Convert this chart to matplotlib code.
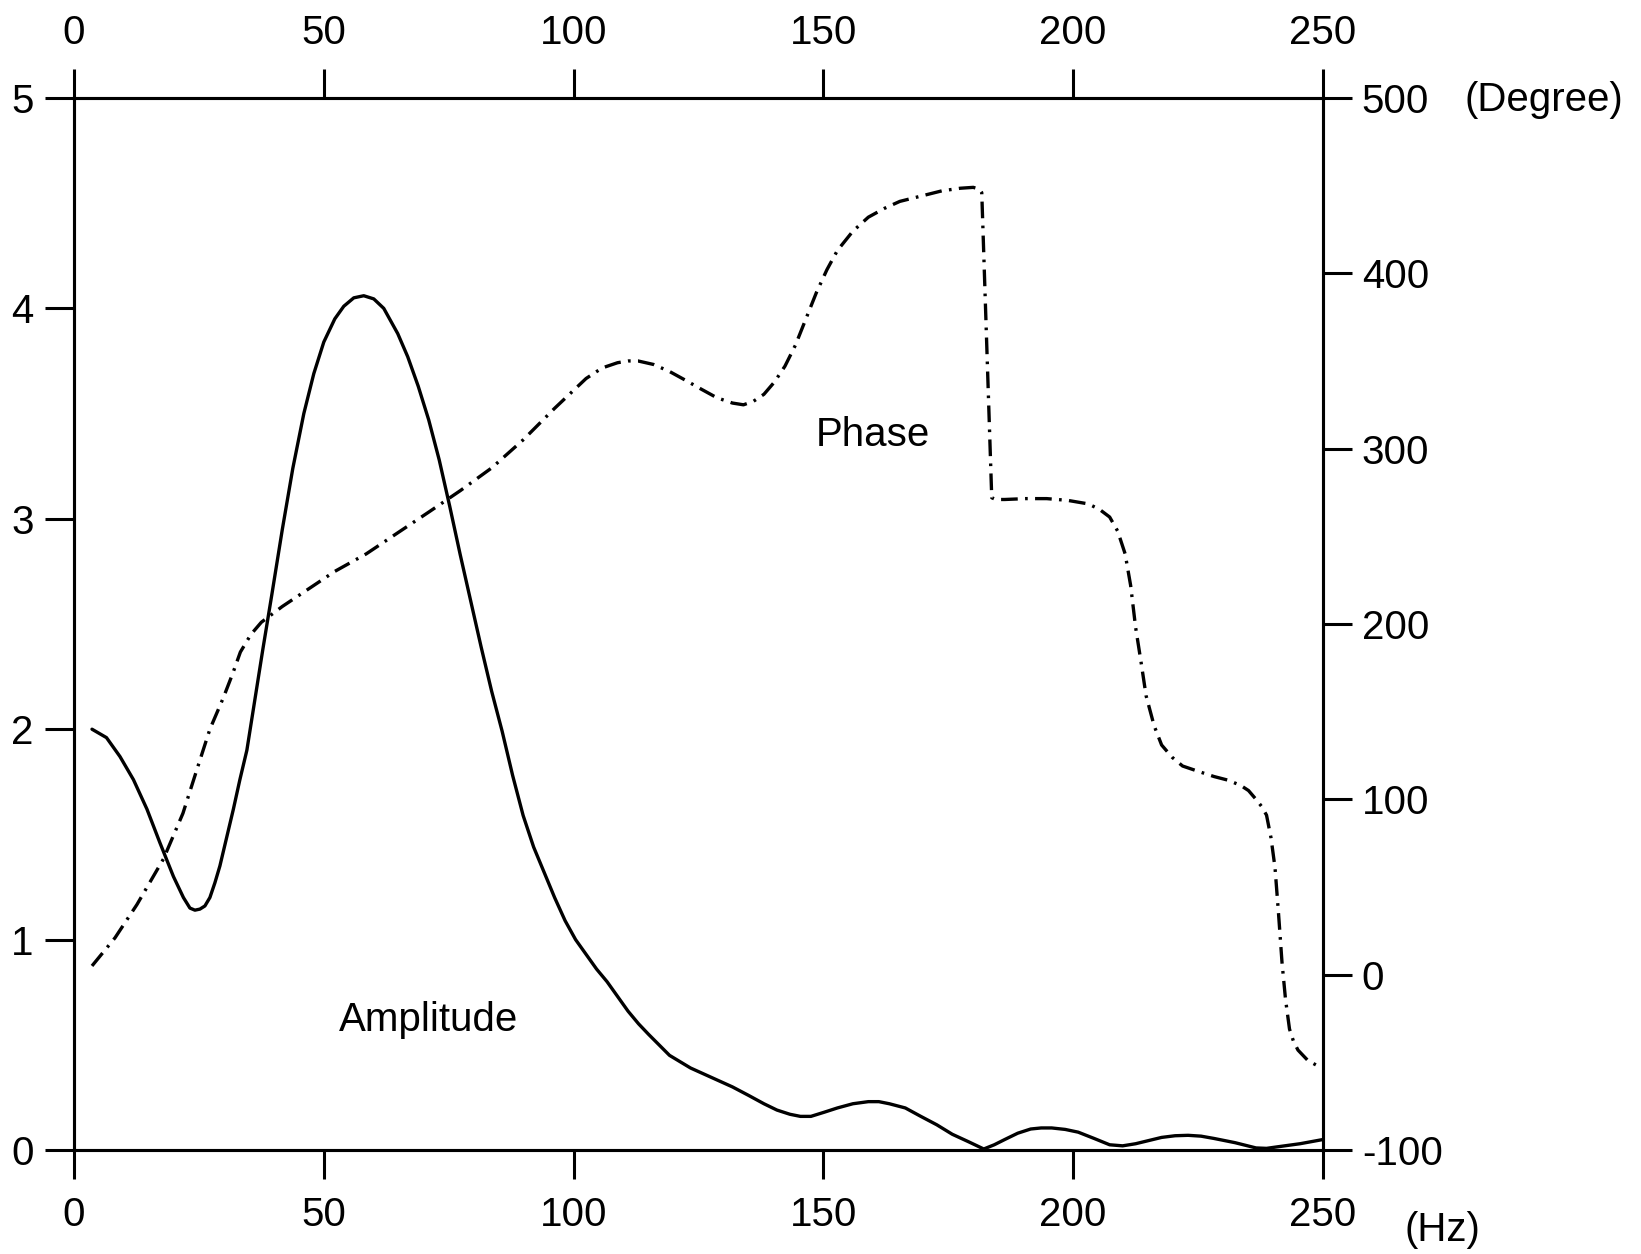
import numpy as np
import matplotlib
matplotlib.use("Agg")
import matplotlib.pyplot as plt

plt.rcParams['font.family'] = ['Liberation Sans', 'DejaVu Sans']
plt.rcParams['axes.unicode_minus'] = False

# amplitude curve (Hz, amplitude)
amp_freq = [3.6, 6.5, 9.2, 11.9, 14.6, 17.2, 19.9, 21.9, 23.2, 24.2, 25.2, 26.2,
            27.2, 28.2, 29.2, 30.5, 31.9, 33.2, 34.6, 36.2, 37.8, 39.6, 41.7, 43.8,
            46.0, 48.0, 50.0, 52.2, 54.0, 56.0, 58.0, 60.0, 62.0, 64.8, 66.8,
            68.9, 71.0, 73.1, 75.2, 77.3, 79.4, 81.5, 83.6, 85.7, 87.8, 89.9, 92.0,
            94.1, 96.2, 98.3, 100.4, 102.5, 104.6, 106.7, 108.8, 110.9, 113.0, 115.0,
            117.1, 119.2, 121.3, 123.4, 127.6, 131.8, 135.0, 138.1, 140.7, 143.3,
            145.4, 147.5, 150.2, 152.8, 155.9, 159.0, 161.1, 163.2, 166.4, 169.5,
            172.7, 175.8, 179.0, 182.1, 184.2, 186.3, 188.9, 191.5, 193.6, 195.7,
            198.4, 201.0, 204.2, 207.3, 209.9, 212.5, 215.1, 217.7, 220.4, 223.0,
            225.6, 228.2, 232.4, 236.6, 238.7, 240.8, 245.4, 250.0]
amp_vals = [2.00, 1.96, 1.87, 1.76, 1.62, 1.46, 1.30, 1.20, 1.15, 1.14, 1.145, 1.16,
            1.20, 1.27, 1.35, 1.48, 1.62, 1.76, 1.90, 2.14, 2.38, 2.64, 2.95, 3.24,
            3.50, 3.69, 3.84, 3.95, 4.01, 4.05, 4.06, 4.045, 4.00, 3.88, 3.77,
            3.63, 3.47, 3.28, 3.06, 2.83, 2.61, 2.39, 2.18, 1.99, 1.78, 1.59, 1.44,
            1.32, 1.20, 1.09, 1.00, 0.93, 0.86, 0.80, 0.73, 0.66, 0.60, 0.55,
            0.50, 0.45, 0.42, 0.39, 0.345, 0.30, 0.26, 0.22, 0.19, 0.17,
            0.16, 0.16, 0.18, 0.20, 0.22, 0.23, 0.23, 0.22, 0.20, 0.16,
            0.12, 0.075, 0.04, 0.005, 0.025, 0.05, 0.08, 0.10, 0.105, 0.105,
            0.098, 0.085, 0.055, 0.025, 0.02, 0.03, 0.045, 0.06, 0.068, 0.07,
            0.066, 0.055, 0.035, 0.01, 0.008, 0.015, 0.03, 0.05]

# phase curve (Hz, degree)
phase_freq = [3.6, 8.2, 12.6, 17.9, 21.8, 24.6, 27.2, 29.9, 31.8, 33.3, 35.4, 37.5, 41.7,
              45.9, 52.2, 58.5, 64.8, 71.1, 77.3, 83.6, 89.9, 96.2, 102.5, 105.7,
              108.8, 110.9, 112.9, 116.0, 119.2, 122.4, 125.5, 128.7, 131.8, 134.0,
              136.0, 138.1, 140.2, 142.3, 144.4, 146.5, 148.6, 150.7, 152.8, 155.9,
              159.0, 162.2, 165.3, 169.5, 173.7, 177.4, 180.0, 181.2, 181.7, 183.7,
              184.5, 186.3, 190.5, 194.7, 198.9, 203.0, 205.2, 207.3, 208.9, 210.4,
              211.5, 212.5, 213.6, 214.6, 216.2, 217.7, 219.8, 221.9, 225.0, 228.2,
              230.9, 233.5, 235.1, 236.6, 237.7, 238.7, 239.6, 240.4, 241.1, 241.8,
              242.5, 243.3, 244.1, 245.0, 247.0, 249.6]
phase_vals = [5, 21, 40, 66, 92, 117, 140, 158, 172, 184, 194, 201, 210,
              218, 230, 240, 252, 264, 276, 289, 305, 323, 340, 346,
              349, 350, 350, 348, 344, 339, 334, 329, 326, 325,
              327, 331, 338, 347, 359, 374, 389, 402, 413, 424,
              432, 437, 441, 444, 447, 448.5, 449, 448, 446, 272,
              271, 271, 271.5, 271.5, 270.5, 268.5, 265.5, 261, 253, 240,
              222, 198, 178, 159, 142, 131, 124, 119, 116, 113,
              111, 108, 105, 100, 96, 91, 78, 61, 35, 7,
              -14, -31, -38, -43, -49, -53]

x_ticks = [0, 50, 100, 150, 200, 250]
amp_ticks = [0, 1, 2, 3, 4, 5]
phase_ticks = [-100, 0, 100, 200, 300, 400, 500]

fs = 29
fig = plt.figure(figsize=(16.41, 12.54), dpi=100)
ax = fig.add_axes([0.0451, 0.0829, 0.7611, 0.8390])
ax2 = ax.twinx()

ax.plot(amp_freq, amp_vals, color='black', lw=2.4,
        solid_capstyle='round', solid_joinstyle='round')
ax2.plot(phase_freq, phase_vals, color='black', lw=2.4,
         linestyle=(0, (5, 2.2, 0.8, 2.2)))

ax.set_xlim(0, 250)
ax.set_ylim(0, 5)
ax2.set_ylim(-100, 500)
ax.set_xticks(x_ticks)
ax.set_yticks(amp_ticks)
ax2.set_yticks(phase_ticks)

for a in (ax, ax2):
    for s in a.spines.values():
        s.set_linewidth(2.2)

ax.tick_params(axis='x', direction='out', length=21, width=2.2, pad=12,
               labelsize=fs, top=True, labeltop=True)
ax.tick_params(axis='y', direction='out', length=21, width=2.2, pad=8, labelsize=fs)
ax2.tick_params(axis='y', direction='out', length=21, width=2.2, pad=7, labelsize=fs)

ax.text(71, 0.62, 'Amplitude', fontsize=fs, ha='center', va='center')
ax2.text(160, 308, 'Phase', fontsize=fs, ha='center', va='center')

fig.text(1544 / 1641, 1 - 100 / 1254, '(Degree)', fontsize=fs, ha='center', va='center')
fig.text(1442 / 1641, 1 - 1230 / 1254, '(Hz)', fontsize=fs, ha='center', va='center')

fig.savefig('out.png', dpi=100, facecolor='white')
